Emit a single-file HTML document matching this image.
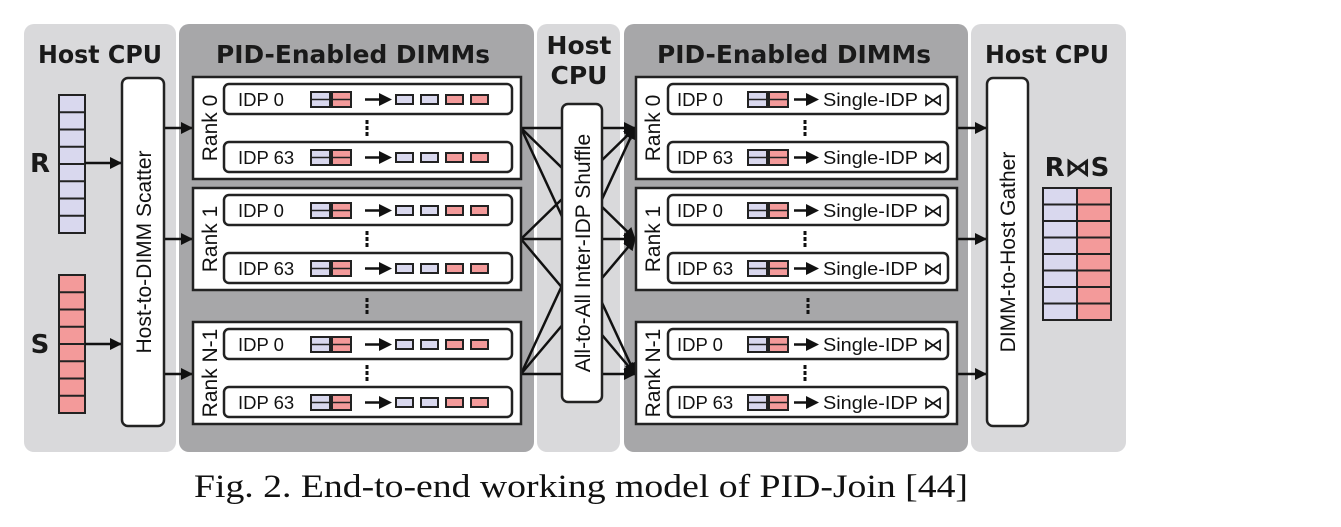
<!DOCTYPE html>
<html><head><meta charset="utf-8"><style>
body{margin:0;background:#fff;width:1341px;height:527px;overflow:hidden}
svg{display:block}
.h{font-family:"DejaVu Sans","Liberation Sans",sans-serif;font-weight:bold;font-size:25px;fill:#1a1a1a;text-anchor:middle}
.t{font-family:"Liberation Sans",sans-serif;font-size:18.5px;fill:#111}
.v{font-family:"Liberation Sans",sans-serif;font-size:21px;fill:#111}
.c{font-family:"Liberation Serif",serif;font-size:33px;fill:#111}
</style></head><body>
<svg width="1341" height="527" viewBox="0 0 1341 527">
<defs>
<marker id="b" markerWidth="12" markerHeight="12" refX="11" refY="6" orient="auto" markerUnits="userSpaceOnUse"><path d="M0,0L12,6L0,12z" fill="#111"/></marker>
<g id="blk"><rect x="0" y="0" width="19" height="15" fill="#d9d8ee" stroke="#222" stroke-width="2"/><line x1="0" y1="7.5" x2="19" y2="7.5" stroke="#222" stroke-width="1.5"/><rect x="21" y="0" width="19" height="15" fill="#f39a9a" stroke="#222" stroke-width="2"/><line x1="21" y1="7.5" x2="40" y2="7.5" stroke="#222" stroke-width="1.5"/></g>
<g id="L"><rect x="0" y="0" width="288" height="30" rx="5" fill="#fff" stroke="#222" stroke-width="2.5"/>
<use href="#blk" x="87" y="8"/>
<line x1="141" y1="15.5" x2="158" y2="15.5" stroke="#111" stroke-width="2.5"/><path d="M155,9L168,15.5L155,22z" fill="#111"/>
<rect x="172" y="11" width="17" height="9" fill="#d9d8ee" stroke="#222" stroke-width="2"/>
<rect x="197" y="11" width="17" height="9" fill="#d9d8ee" stroke="#222" stroke-width="2"/>
<rect x="222" y="11" width="17" height="9" fill="#f39a9a" stroke="#222" stroke-width="2"/>
<rect x="247" y="11" width="17" height="9" fill="#f39a9a" stroke="#222" stroke-width="2"/></g>
<g id="R"><rect x="0" y="0" width="280" height="30" rx="5" fill="#fff" stroke="#222" stroke-width="2.5"/>
<use href="#blk" x="80" y="8"/>
<line x1="126" y1="15.5" x2="140" y2="15.5" stroke="#111" stroke-width="2.5"/><path d="M138,9L151,15.5L138,22z" fill="#111"/>
<text class="t" x="155" y="22" textLength="120" lengthAdjust="spacingAndGlyphs">Single-IDP ⋈</text></g>
</defs>
<rect x="24" y="24" width="152" height="428" rx="10" fill="#d9d9db"/>
<rect x="179" y="24" width="355" height="428" rx="10" fill="#a7a7a9"/>
<rect x="537" y="24" width="83" height="428" rx="10" fill="#d9d9db"/>
<rect x="624" y="24" width="344" height="428" rx="10" fill="#a7a7a9"/>
<rect x="971" y="24" width="155" height="428" rx="10" fill="#d9d9db"/>
<text class="h" x="100" y="63" textLength="124" lengthAdjust="spacingAndGlyphs">Host CPU</text>
<text class="h" x="353" y="63" textLength="274" lengthAdjust="spacingAndGlyphs">PID-Enabled DIMMs</text>
<text class="h" x="579" y="54">Host</text>
<text class="h" x="579" y="84">CPU</text>
<text class="h" x="794" y="63" textLength="274" lengthAdjust="spacingAndGlyphs">PID-Enabled DIMMs</text>
<text class="h" x="1047" y="63" textLength="124" lengthAdjust="spacingAndGlyphs">Host CPU</text>
<g stroke="#222" stroke-width="2">
<rect x="59" y="95" width="26" height="138" fill="#d9d8ee"/>
<path d="M59,112.3h26M59,129.5h26M59,146.8h26M59,164h26M59,181.3h26M59,198.5h26M59,215.8h26"/>
<rect x="59" y="275" width="26" height="138" fill="#f39a9a"/>
<path d="M59,292.3h26M59,309.5h26M59,326.8h26M59,344h26M59,361.3h26M59,378.5h26M59,395.8h26"/>
<rect x="1043" y="188" width="34" height="132" fill="#d9d8ee"/>
<rect x="1077" y="188" width="34" height="132" fill="#f39a9a"/>
<path d="M1043,204.5h68M1043,221h68M1043,237.5h68M1043,254h68M1043,270.5h68M1043,287h68M1043,303.5h68"/>
</g>
<text class="h" x="40" y="172" style="font-size:26px">R</text>
<text class="h" x="40" y="353" style="font-size:26px">S</text>
<text class="h" x="1077" y="176" style="font-size:26px">R⋈S</text>
<g stroke="#111" stroke-width="2.5" fill="none">
<line x1="85" y1="163" x2="121" y2="163" marker-end="url(#b)"/>
<line x1="85" y1="344" x2="121" y2="344" marker-end="url(#b)"/>
<line x1="165" y1="128" x2="192" y2="128" marker-end="url(#b)"/>
<line x1="165" y1="239" x2="192" y2="239" marker-end="url(#b)"/>
<line x1="165" y1="374" x2="192" y2="374" marker-end="url(#b)"/>
<line x1="957" y1="128" x2="986" y2="128" marker-end="url(#b)"/>
<line x1="957" y1="239" x2="986" y2="239" marker-end="url(#b)"/>
<line x1="957" y1="374" x2="986" y2="374" marker-end="url(#b)"/>
<g marker-end="url(#b)">
<line x1="521" y1="128" x2="635" y2="128"/><line x1="521" y1="128" x2="635" y2="239"/><line x1="521" y1="128" x2="635" y2="374"/>
<line x1="521" y1="239" x2="635" y2="128"/><line x1="521" y1="239" x2="635" y2="239"/><line x1="521" y1="239" x2="635" y2="374"/>
<line x1="521" y1="374" x2="635" y2="128"/><line x1="521" y1="374" x2="635" y2="239"/><line x1="521" y1="374" x2="635" y2="374"/>
</g></g>
<rect x="122" y="78" width="42" height="348" rx="6" fill="#fff" stroke="#222" stroke-width="2.5"/>
<text class="v" transform="translate(151,252) rotate(-90)" text-anchor="middle">Host-to-DIMM Scatter</text>
<rect x="562" y="104" width="40" height="298" rx="6" fill="#fff" stroke="#222" stroke-width="2.5"/>
<text class="v" transform="translate(590,253) rotate(-90)" text-anchor="middle">All-to-All Inter-IDP Shuffle</text>
<rect x="987" y="78" width="41" height="348" rx="6" fill="#fff" stroke="#222" stroke-width="2.5"/>
<text class="v" transform="translate(1015,252) rotate(-90)" text-anchor="middle">DIMM-to-Host Gather</text>
<g id="lr">
<rect x="193" y="77" width="328" height="102" fill="#fff" stroke="#222" stroke-width="2.5"/>
<use href="#L" x="224" y="84"/><use href="#L" x="224" y="142"/>
<text class="t" x="238" y="106">IDP 0</text><text class="t" x="238" y="164">IDP 63</text>
<path d="M367,120v4M367,126v4M367,132v4" stroke="#111" stroke-width="3"/>
</g>
<use href="#lr" y="111"/><use href="#lr" y="245"/>
<text class="v" transform="translate(217,128) rotate(-90)" text-anchor="middle">Rank 0</text>
<text class="v" transform="translate(217,239) rotate(-90)" text-anchor="middle">Rank 1</text>
<text class="v" transform="translate(217,373) rotate(-90)" text-anchor="middle">Rank N-1</text>
<path d="M367,298v4M367,304v4M367,310v4" stroke="#111" stroke-width="3"/>
<g id="rr">
<rect x="636" y="77" width="321" height="102" fill="#fff" stroke="#222" stroke-width="2.5"/>
<use href="#R" x="668" y="84"/><use href="#R" x="668" y="142"/>
<text class="t" x="677" y="106">IDP 0</text><text class="t" x="677" y="164">IDP 63</text>
<path d="M805,120v4M805,126v4M805,132v4" stroke="#111" stroke-width="3"/>
</g>
<use href="#rr" y="111"/><use href="#rr" y="245"/>
<text class="v" transform="translate(660,128) rotate(-90)" text-anchor="middle">Rank 0</text>
<text class="v" transform="translate(660,239) rotate(-90)" text-anchor="middle">Rank 1</text>
<text class="v" transform="translate(660,373) rotate(-90)" text-anchor="middle">Rank N-1</text>
<path d="M808,298v4M808,304v4M808,310v4" stroke="#111" stroke-width="3"/>
<text class="c" x="194" y="497" textLength="774" lengthAdjust="spacingAndGlyphs">Fig. 2.  End-to-end working model of PID-Join [44]</text>
</svg>
</body></html>
